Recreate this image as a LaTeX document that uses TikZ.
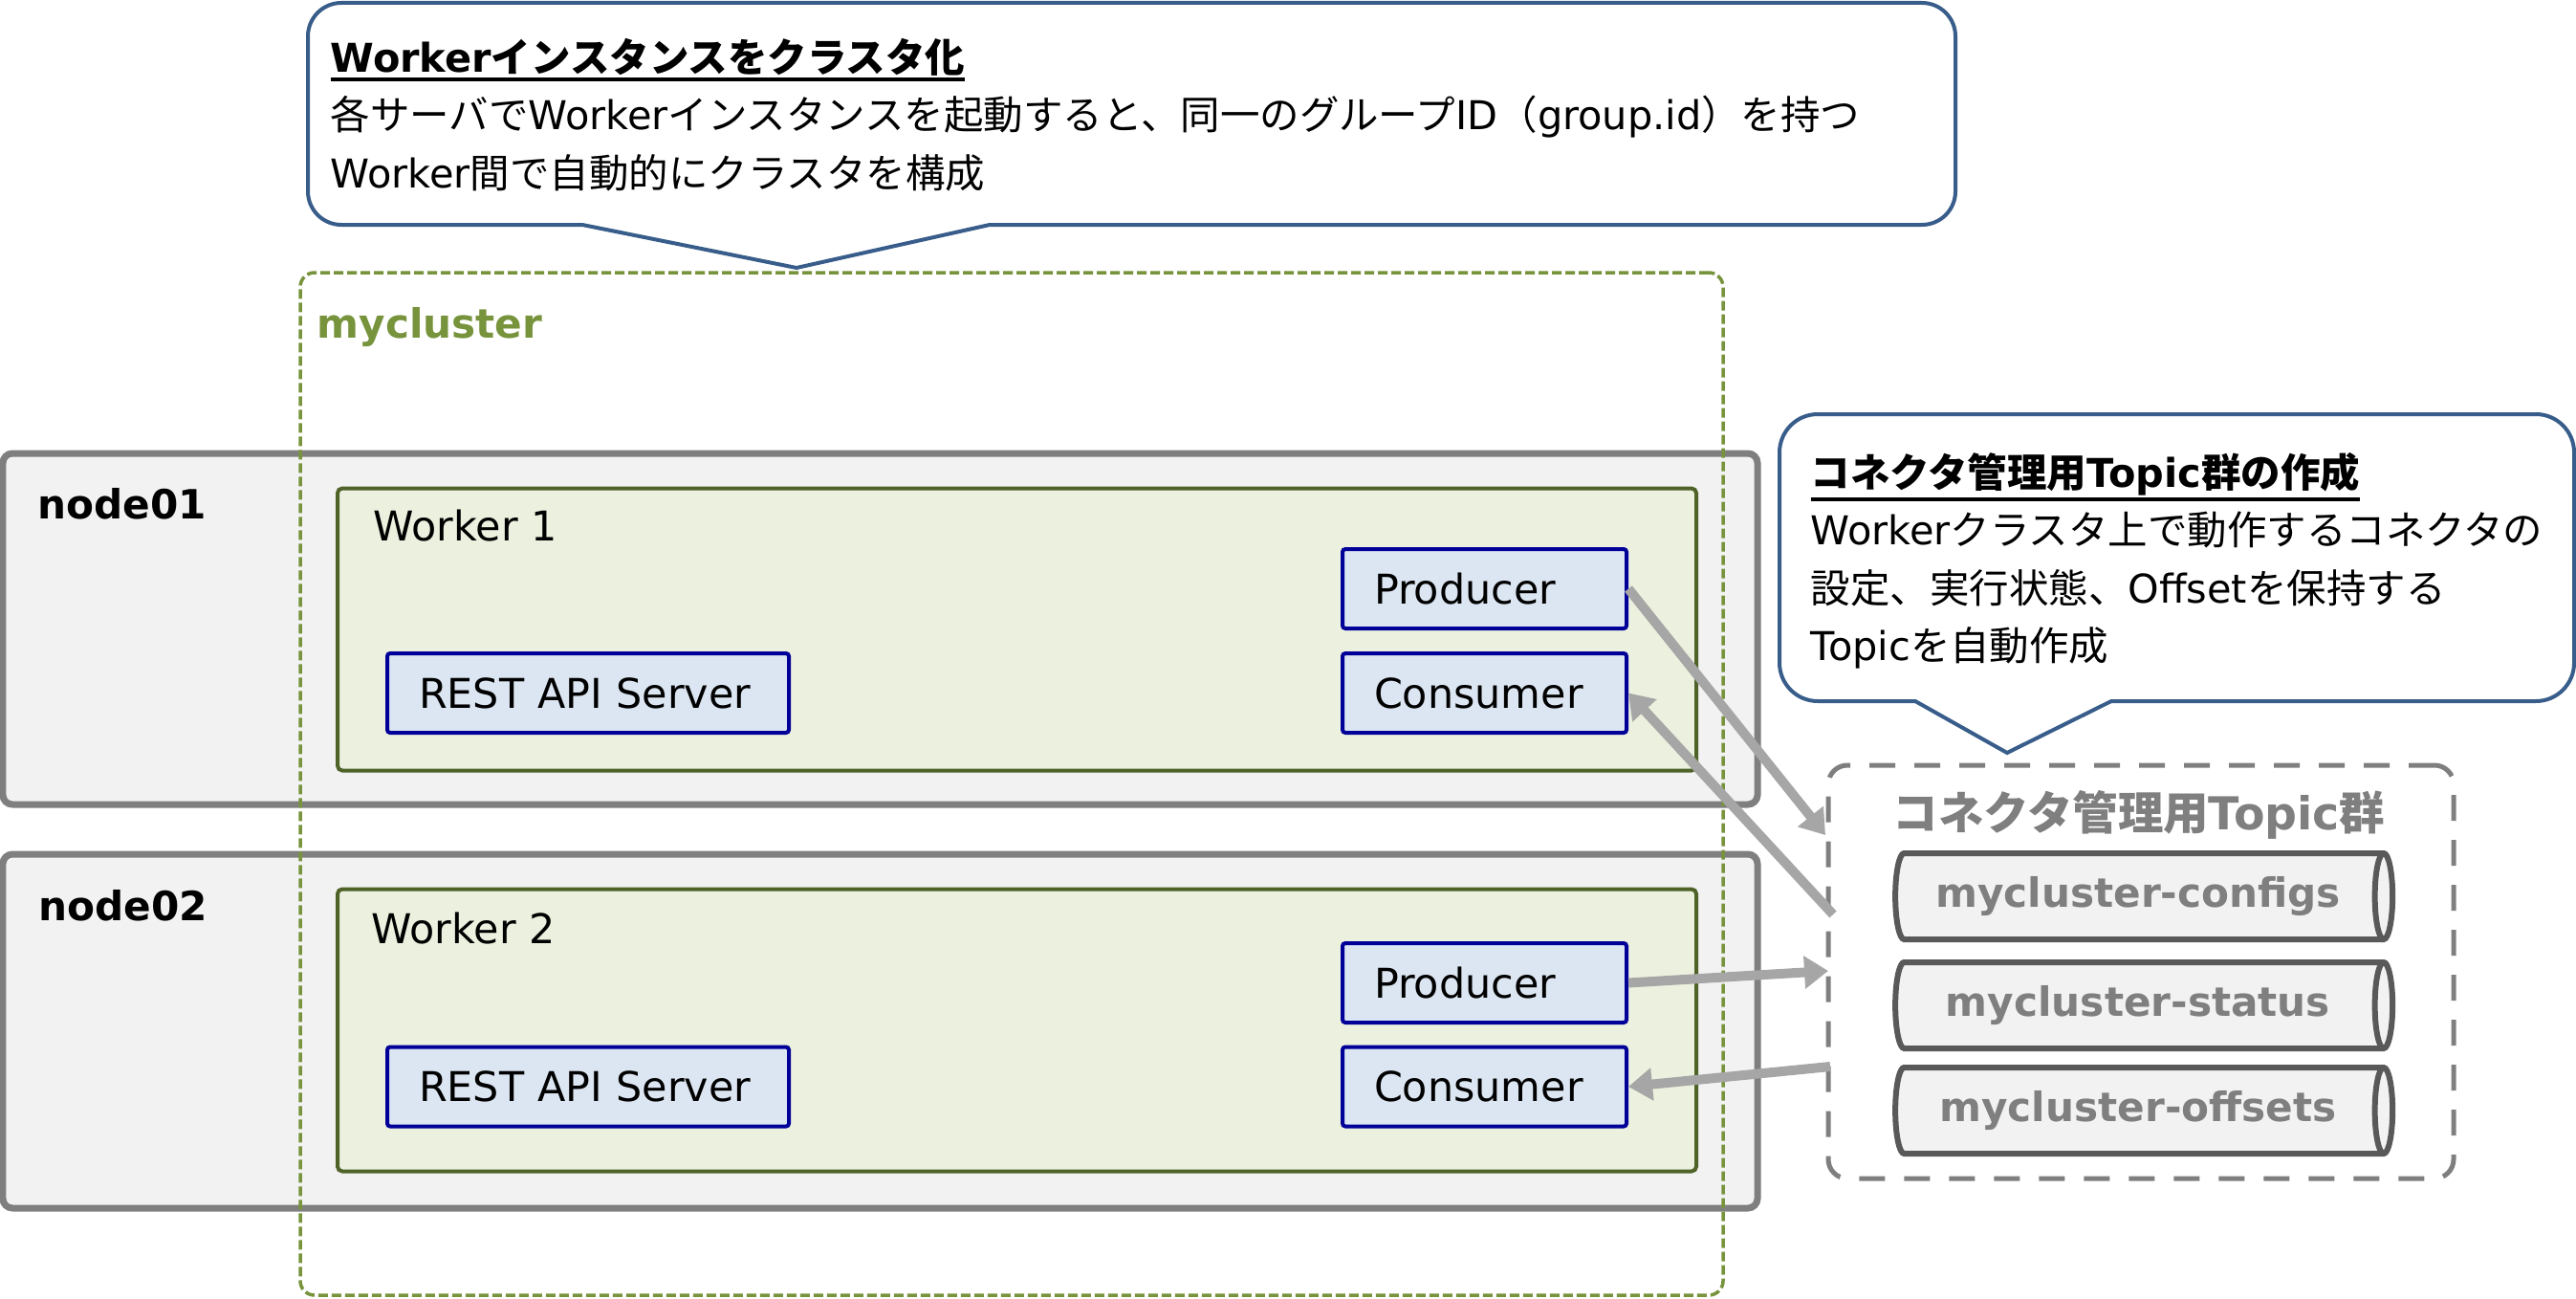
\documentclass[tikz,border=0pt]{standalone}
\usepackage{fontspec}
\setmainfont{DejaVu Sans}
\newfontfamily\jp{Noto Sans CJK JP}
\usetikzlibrary{arrows.meta,shapes.geometric}

\definecolor{calloutblue}{HTML}{385D8A}
\definecolor{clustergreen}{HTML}{77933C}
\definecolor{workerline}{HTML}{4F6228}
\definecolor{workerfill}{HTML}{EBF1DE}
\definecolor{hostgray}{HTML}{7F7F7F}
\definecolor{hostfill}{HTML}{F2F2F2}
\definecolor{compline}{HTML}{000099}
\definecolor{compfill}{HTML}{DCE6F2}
\definecolor{topicline}{HTML}{595959}
\definecolor{arrowgray}{HTML}{A6A6A6}

\newcommand\lblfont{\fontsize{12.2pt}{17pt}\selectfont}
\newcommand\notefont{\fontsize{11.8pt}{17.2pt}\selectfont}
\newcommand\tagfont{\fontsize{12pt}{17pt}\selectfont\bfseries}
\newcommand\bolduline[1]{\vtop{\hbox{#1}\kern0.6pt\hrule height 1.1pt}}

\begin{document}
\begin{tikzpicture}[
  host/.style={draw=hostgray, fill=hostfill, line width=0.07cm, rounded corners=0.1cm, minimum width=18.35cm, inner sep=0pt},
  workerbox/.style={draw=workerline, fill=workerfill, line width=0.04cm, rounded corners=0.05cm, minimum width=14.21cm, minimum height=2.95cm, inner sep=0pt},
  compbox/.style={draw=compline, fill=compfill, line width=0.04cm, rounded corners=0.03cm, minimum height=0.83cm, inner xsep=0.33cm, inner ysep=0pt, text width=#1, align=left, font=\lblfont},
  topicdb/.style={cylinder, aspect=0.45, draw=topicline, fill=hostfill, line width=0.06cm, minimum height=5.2cm, minimum width=0.9cm, inner sep=0pt, text=hostgray, font=\tagfont},
  tag/.style={anchor=west, inner sep=0pt, font=\tagfont},
  lbl/.style={anchor=west, inner sep=0pt, font=\lblfont},
  note/.style={anchor=west, align=left, inner sep=0pt, font=\notefont},
  callout/.style={draw=calloutblue, fill=white, line width=0.04cm},
  flow/.style={draw=arrowgray, line width=0.1cm, -{Triangle[length=0.25cm,width=0.33cm]}},
]
\useasboundingbox (0,0) rectangle (26.94,-13.57);

% servers
\node[host, minimum height=3.67cm] (node01) at (9.205,-6.575) {};
\node[host, minimum height=3.70cm] (node02) at (9.205,-10.78) {};
\node[tag] (node01name) at (0.39,-5.27) {node01};
\node[tag] (node02name) at (0.40,-9.47) {node02};

% workers
\node[workerbox] (worker1) at (10.635,-6.58) {};
\node[workerbox] (worker2) at (10.635,-10.77) {};
\node[lbl] (worker1name) at (3.90,-5.50) {Worker 1};
\node[lbl] (worker2name) at (3.88,-9.71) {Worker 2};

\node[compbox=3.54cm] (rest1) at (6.15,-7.245) {REST API Server};
\node[compbox=2.31cm] (prod1) at (15.525,-6.155) {Producer};
\node[compbox=2.31cm] (cons1) at (15.525,-7.245) {Consumer};
\node[compbox=3.54cm] (rest2) at (6.15,-11.36) {REST API Server};
\node[compbox=2.31cm] (prod2) at (15.525,-10.275) {Producer};
\node[compbox=2.31cm] (cons2) at (15.525,-11.36) {Consumer};

% cluster
\node[draw=clustergreen, line width=0.035cm, dash pattern=on 0.1cm off 0.04cm, rounded corners=0.15cm, minimum width=14.88cm, minimum height=10.69cm] (cluster) at (10.58,-8.195) {};
\node[tag, text=clustergreen] (clustername) at (3.31,-3.42) {mycluster};

% topics
\node[draw=hostgray, line width=0.05cm, dash pattern=on 0.27cm off 0.2cm, rounded corners=0.2cm, minimum width=6.54cm, minimum height=4.32cm] (topics) at (22.39,-10.16) {};
\node[font=\fontsize{13.5pt}{17pt}\selectfont\bfseries, text=hostgray] (topicsname) at (22.37,-8.52) {{\jp コネクタ管理用}Topic{\jp 群}};
\node[topicdb] (configs) at (22.36,-9.37) {mycluster-configs};
\node[topicdb] (status) at (22.36,-10.51) {mycluster-status};
\node[topicdb] (offsets) at (22.36,-11.61) {mycluster-offsets};

% callouts
\draw[callout] (8.33,-2.80) -- (6.09,-2.35) [rounded corners=0.35cm] -- (3.22,-2.35) -- (3.22,-0.03) -- (20.45,-0.03) -- (20.45,-2.35) [sharp corners] -- (10.35,-2.35) -- cycle;
\node[note] (note1) at (3.45,-1.20) {\textbf{\bolduline{Worker{\jp インスタンスをクラスタ化}}}\\
  {\jp 各サーバで}Worker{\jp インスタンスを起動すると、同一のグループ}ID{\jp （}group.id{\jp ）を持つ}\\
  Worker{\jp 間で自動的にクラスタを構成}};
\draw[callout] (20.99,-7.87) -- (20.03,-7.33) [rounded corners=0.4cm] -- (18.61,-7.33) -- (18.61,-4.33) -- (26.92,-4.33) -- (26.92,-7.33) [sharp corners] -- (22.08,-7.33) -- cycle;
\node[note] (note2) at (18.93,-5.86) {\textbf{\bolduline{{\jp コネクタ管理用}Topic{\jp 群の作成}}}\\
  Worker{\jp クラスタ上で動作するコネクタの}\\
  {\jp 設定、実行状態、}Offset{\jp を保持する}\\
  Topic{\jp を自動作成}};

% data flow
\coordinate (in1) at (19.09,-8.73);
\coordinate (out1) at (19.17,-9.56);
\coordinate (in2) at (19.12,-10.15);
\coordinate (out2) at (19.14,-11.15);
\draw[flow] (prod1.east) -- (in1);
\draw[flow] (out1) -- (cons1.east);
\draw[flow] (prod2.east) -- (in2);
\draw[flow] (out2) -- (cons2.east);
\end{tikzpicture}
\end{document}
